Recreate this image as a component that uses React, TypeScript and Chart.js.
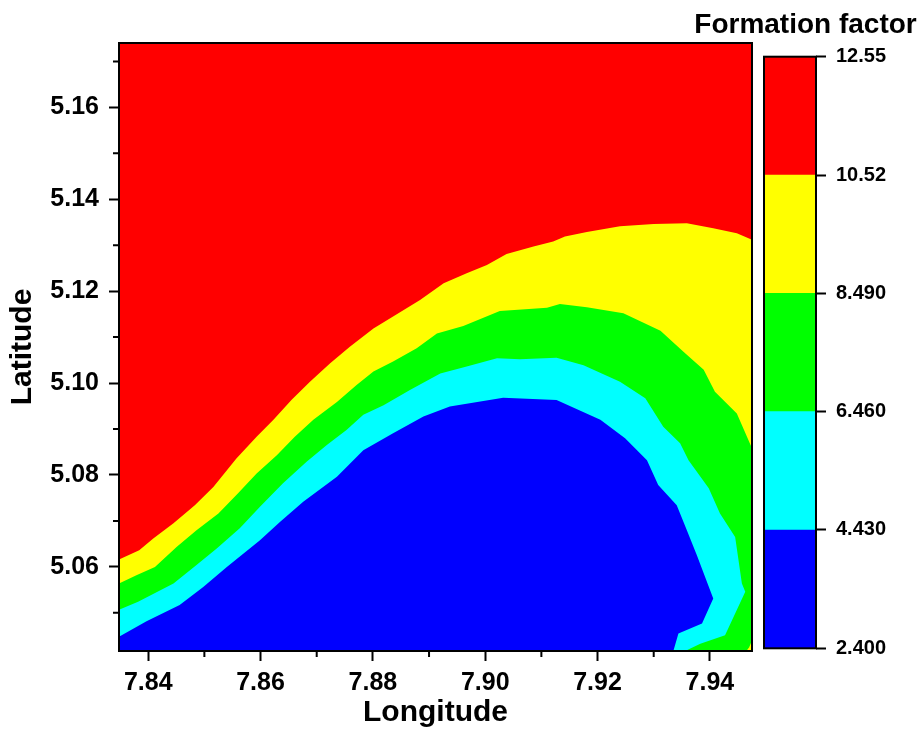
import React, { useEffect, useRef } from 'react';
import { Chart, registerables } from 'chart.js';

Chart.register(...registerables);

// ---- Axis ranges & ticks ----
const LON_MIN = 7.8348;
const LON_MAX = 7.9475;
const LAT_MIN = 5.0417;
const LAT_MAX = 5.174;
const LON_TICKS = [7.84, 7.86, 7.88, 7.9, 7.92, 7.94];
const LON_MINOR = [7.85, 7.87, 7.89, 7.91, 7.93];
const LAT_TICKS = [5.06, 5.08, 5.1, 5.12, 5.14, 5.16];
const LAT_MINOR = [5.05, 5.07, 5.09, 5.11, 5.13, 5.15, 5.17];

// ---- Colour scale ----
const LEVELS = [2.4, 4.43, 6.46, 8.49, 10.52, 12.55];
const LEVEL_LABELS = ['2.400', '4.430', '6.460', '8.490', '10.52', '12.55'];
const LEVEL_COLORS = ['#0000ff', '#00ffff', '#00ff00', '#ffff00', '#ff0000'];

// ---- Contour boundaries (lon / lat) ----
// 10.52 (red / yellow)
const RY_LON = [7.8348, 7.8384, 7.8409, 7.8445, 7.8483, 7.8516, 7.8557, 7.8593, 7.8623, 7.8655, 7.8688, 7.8724, 7.8759, 7.8801, 7.8836, 7.8884, 7.8926, 7.8967, 7.9003, 7.9038, 7.9086, 7.9121, 7.9142, 7.9181, 7.924, 7.93, 7.9359, 7.9406, 7.9448, 7.9475];
const RY_LAT = [5.0616, 5.0636, 5.0662, 5.0695, 5.0734, 5.0774, 5.0836, 5.0883, 5.092, 5.0963, 5.1003, 5.1043, 5.1079, 5.1119, 5.1145, 5.1181, 5.1217, 5.1239, 5.1257, 5.1281, 5.1297, 5.1308, 5.1319, 5.1329, 5.1341, 5.1346, 5.1348, 5.1337, 5.1326, 5.1312];
// 8.49 (yellow / green)
const YG_LON = [7.8348, 7.8379, 7.8412, 7.8451, 7.8486, 7.8525, 7.856, 7.8593, 7.8629, 7.8661, 7.8694, 7.8736, 7.8771, 7.8801, 7.8836, 7.8878, 7.8914, 7.8961, 7.9026, 7.911, 7.9133, 7.9181, 7.9246, 7.9312, 7.9353, 7.9389, 7.9409, 7.9448, 7.9475, 7.9475, 7.947, 7.9465];
const YG_LAT = [5.0564, 5.0582, 5.06, 5.0644, 5.068, 5.0716, 5.076, 5.0803, 5.0843, 5.0883, 5.092, 5.0959, 5.0996, 5.1025, 5.1047, 5.1076, 5.1108, 5.1124, 5.1157, 5.1164, 5.1172, 5.1165, 5.1152, 5.1114, 5.1068, 5.1029, 5.0981, 5.0934, 5.0858, 5.044, 5.0425, 5.0417];
// 6.46 (green / cyan)
const GC_LON = [7.8348, 7.8382, 7.8445, 7.8486, 7.8522, 7.8563, 7.8599, 7.864, 7.8682, 7.8718, 7.8753, 7.8783, 7.8819, 7.8866, 7.892, 7.8967, 7.9021, 7.9062, 7.9127, 7.9175, 7.924, 7.9285, 7.9317, 7.9347, 7.9362, 7.9398, 7.9418, 7.9445, 7.9457, 7.9463, 7.9427, 7.9383, 7.9356];
const GC_LAT = [5.0507, 5.0524, 5.0564, 5.0604, 5.064, 5.0684, 5.0731, 5.0782, 5.0829, 5.0865, 5.0898, 5.0931, 5.0952, 5.0985, 5.1021, 5.1036, 5.1054, 5.1052, 5.1055, 5.1039, 5.1003, 5.0967, 5.0905, 5.0869, 5.0832, 5.0771, 5.0716, 5.0665, 5.0564, 5.0546, 5.0451, 5.0433, 5.0417];
// 4.43 (cyan / blue)
const CB_LON = [7.8348, 7.8397, 7.8456, 7.8498, 7.854, 7.8599, 7.8635, 7.8676, 7.8736, 7.8783, 7.8836, 7.889, 7.8937, 7.9032, 7.9127, 7.9205, 7.9249, 7.9288, 7.9308, 7.9341, 7.9359, 7.9377, 7.9406, 7.9386, 7.9344, 7.9335];
const CB_LAT = [5.0448, 5.0482, 5.0517, 5.0556, 5.06, 5.0658, 5.0698, 5.0742, 5.0796, 5.0854, 5.0891, 5.0927, 5.0949, 5.0968, 5.0963, 5.092, 5.088, 5.0832, 5.0778, 5.0734, 5.068, 5.0625, 5.0531, 5.0477, 5.0455, 5.0417];

const FONT = "'Liberation Sans', Arial, Helvetica, sans-serif";

type P = { x: number; y: number };
const pts = (lons: number[], lats: number[]): P[] => lons.map((x, i) => ({ x, y: lats[i] }));
const BL: P = { x: LON_MIN, y: LAT_MIN };

const framePlugin = {
  id: 'frame',
  afterDraw(chart: any) {
    const { ctx, chartArea: a } = chart;
    ctx.save();
    ctx.strokeStyle = '#000';
    ctx.lineWidth = 2;
    ctx.strokeRect(a.left, a.top, a.right - a.left, a.bottom - a.top);
    ctx.restore();
  },
};

const minorTickPlugin = {
  id: 'minorTicks',
  afterDraw(chart: any) {
    const { ctx, chartArea: a } = chart;
    const x = chart.scales.x;
    const y = chart.scales.y;
    ctx.save();
    ctx.strokeStyle = '#000';
    ctx.lineWidth = 2;
    ctx.beginPath();
    LON_MINOR.forEach((v) => {
      const px = x.getPixelForValue(v);
      ctx.moveTo(px, a.bottom);
      ctx.lineTo(px, a.bottom + 6);
    });
    LAT_MINOR.forEach((v) => {
      const py = y.getPixelForValue(v);
      ctx.moveTo(a.left, py);
      ctx.lineTo(a.left - 6, py);
    });
    ctx.stroke();
    ctx.restore();
  },
};

export default function App() {
  const mainRef = useRef<HTMLCanvasElement | null>(null);
  const barRef = useRef<HTMLCanvasElement | null>(null);

  useEffect(() => {
    if (!mainRef.current || !barRef.current) return;
    Chart.defaults.font.family = FONT;

    const polygons: { data: P[]; color: string; order: number }[] = [
      {
        data: [BL, { x: LON_MIN, y: LAT_MAX }, { x: LON_MAX, y: LAT_MAX }, { x: LON_MAX, y: LAT_MIN }],
        color: LEVEL_COLORS[4],
        order: 5,
      },
      { data: [BL, ...pts(RY_LON, RY_LAT), { x: LON_MAX, y: LAT_MIN }], color: LEVEL_COLORS[3], order: 4 },
      { data: [BL, ...pts(YG_LON, YG_LAT)], color: LEVEL_COLORS[2], order: 3 },
      { data: [BL, ...pts(GC_LON, GC_LAT)], color: LEVEL_COLORS[1], order: 2 },
      { data: [BL, ...pts(CB_LON, CB_LAT)], color: LEVEL_COLORS[0], order: 1 },
    ];

    const main = new Chart(mainRef.current, {
      type: 'line',
      data: {
        datasets: polygons.map((p) => ({
          data: p.data,
          backgroundColor: p.color,
          borderColor: 'rgba(0,0,0,0)',
          borderWidth: 0,
          pointRadius: 0,
          fill: 'shape',
          tension: 0,
          order: p.order,
        })),
      },
      options: {
        animation: false,
        responsive: false,
        events: [],
        layout: { padding: { left: 0, right: 169, top: 43, bottom: 0 } },
        plugins: { legend: { display: false }, tooltip: { enabled: false } },
        scales: {
          x: {
            type: 'linear',
            min: LON_MIN,
            max: LON_MAX,
            afterBuildTicks: (s: any) => {
              s.ticks = LON_TICKS.map((v) => ({ value: v }));
            },
            afterFit: (s: any) => {
              s.height = 80;
            },
            ticks: {
              padding: 7,
              maxRotation: 0,
              color: '#000',
              font: { size: 25, weight: 'bold' },
              callback: (v: any) => Number(v).toFixed(2),
            },
            grid: { display: true, drawOnChartArea: false, drawTicks: true, tickLength: 10, tickWidth: 2, tickColor: '#000' },
            border: { display: false },
            title: { display: true, text: 'Longitude', color: '#000', font: { size: 30, weight: 'bold' }, padding: { top: 0, bottom: 0 } },
          },
          y: {
            type: 'linear',
            min: LAT_MIN,
            max: LAT_MAX,
            afterBuildTicks: (s: any) => {
              s.ticks = LAT_TICKS.map((v) => ({ value: v }));
            },
            afterFit: (s: any) => {
              s.width = 119;
            },
            ticks: {
              padding: 10,
              color: '#000',
              font: { size: 25, weight: 'bold' },
              callback: (v: any) => Number(v).toFixed(2),
            },
            grid: { display: true, drawOnChartArea: false, drawTicks: true, tickLength: 10, tickWidth: 2, tickColor: '#000' },
            border: { display: false },
            title: { display: true, text: 'Latitude', color: '#000', font: { size: 30, weight: 'bold' }, padding: { top: 5, bottom: 0 } },
          },
        },
      } as any,
      plugins: [framePlugin, minorTickPlugin],
    });

    const bar = new Chart(barRef.current, {
      type: 'bar',
      data: {
        labels: [''],
        datasets: LEVEL_COLORS.map((c, i) => ({
          data: [[LEVELS[i], LEVELS[i + 1]]],
          backgroundColor: c,
          borderWidth: 0,
          grouped: false,
          barPercentage: 1,
          categoryPercentage: 1,
          yAxisID: 'y',
        })),
      } as any,
      options: {
        animation: false,
        responsive: false,
        events: [],
        layout: { padding: { left: 0, right: 0, top: 0, bottom: 82.7 } },
        plugins: {
          legend: { display: false },
          tooltip: { enabled: false },
          title: {
            display: true,
            text: 'Formation factor',
            color: '#000',
            font: { size: 28, weight: 'bold' },
            padding: { top: 8.7, bottom: 14.4 },
          },
        },
        scales: {
          x: { display: false },
          y: {
            type: 'linear',
            position: 'right',
            min: LEVELS[0],
            max: LEVELS[LEVELS.length - 1],
            afterBuildTicks: (s: any) => {
              s.ticks = LEVELS.map((v) => ({ value: v }));
            },
            afterFit: (s: any) => {
              s.width = 105;
            },
            ticks: {
              padding: 10,
              color: '#000',
              font: { size: 20, weight: 'bold' },
              callback: (_v: any, i: number) => LEVEL_LABELS[i],
            },
            grid: { display: true, drawOnChartArea: false, drawTicks: true, tickLength: 10, tickWidth: 2, tickColor: '#000' },
            border: { display: false },
          },
          yl: {
            type: 'linear',
            position: 'left',
            display: true,
            ticks: { display: false },
            grid: { display: false, drawTicks: false },
            border: { display: false },
            afterFit: (s: any) => {
              s.width = 74;
            },
          },
        },
      } as any,
      plugins: [framePlugin],
    });

    return () => {
      main.destroy();
      bar.destroy();
    };
  }, []);

  return (
    <div style={{ position: 'fixed', left: 0, top: 0, width: 921, height: 731, background: '#fff' }}>
      <canvas
        ref={mainRef}
        width={921}
        height={731}
        style={{ position: 'absolute', left: 0, top: 0, width: 921, height: 731 }}
      />
      <canvas
        ref={barRef}
        width={231}
        height={731}
        style={{ position: 'absolute', left: 690, top: 0, width: 231, height: 731 }}
      />
    </div>
  );
}
